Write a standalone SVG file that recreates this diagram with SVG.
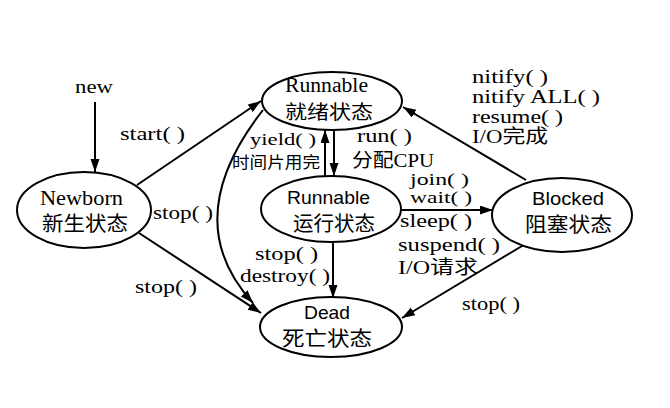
<svg xmlns="http://www.w3.org/2000/svg" width="670" height="408" viewBox="0 0 670 408">
<style>
.bg{fill:#fff}
.st{fill:#fff;stroke:#000;stroke-width:2}
.t{font-family:"Liberation Serif","Noto Sans CJK SC",serif;font-size:20px;fill:#000}
.s{font-family:"Liberation Sans","Noto Sans CJK SC",sans-serif;font-size:19px;fill:#000}
.c{font-family:"Noto Sans CJK SC",sans-serif;font-size:20px;fill:#000}
.lb{font-family:"Liberation Serif","Noto Sans CJK SC",serif;font-size:19px;fill:#000}
.sm{font-family:"Liberation Serif","Noto Sans CJK SC",serif;font-size:17px;fill:#000}
.lc{font-family:"Noto Sans CJK SC",sans-serif;font-size:16px;fill:#000}
.ln{fill:none;stroke:#000;stroke-width:2}
</style>
<defs>
<marker id="ah" markerUnits="userSpaceOnUse" markerWidth="14" markerHeight="10" refX="13" refY="4.5" orient="auto">
<path d="M0,0 L13,4.5 L0,9 Z" fill="#000"/>
</marker>
</defs>
<rect class="bg" x="0" y="0" width="670" height="408"/>
<g id="connectors">
<path class="ln" d="M95,102 L95,172" marker-end="url(#ah)"/>
<path class="ln" d="M137,185 L261,101" marker-end="url(#ah)"/>
<path class="ln" d="M263,110 Q177,220 253,303" marker-end="url(#ah)"/>
<path class="ln" d="M139,233 L261,313" marker-end="url(#ah)"/>
<path class="ln" d="M325,176 L325,130" marker-end="url(#ah)"/>
<path class="ln" d="M334,130 L334,176" marker-end="url(#ah)"/>
<path class="ln" d="M400,210 L493,210" marker-end="url(#ah)"/>
<path class="ln" d="M333,242 L333,298" marker-end="url(#ah)"/>
<path class="ln" d="M526,180 L403,107" marker-end="url(#ah)"/>
<path class="ln" d="M527,243 L402,318" marker-end="url(#ah)"/>
</g>
<g id="labels">
<text class="lb" x="75" y="93" textLength="38" lengthAdjust="spacingAndGlyphs">new</text>
<text class="lb" x="120" y="140" textLength="65" lengthAdjust="spacingAndGlyphs">start( )</text>
<text class="lb" x="153" y="219" textLength="60" lengthAdjust="spacingAndGlyphs">stop( )</text>
<text class="lb" x="135" y="293" textLength="62" lengthAdjust="spacingAndGlyphs">stop( )</text>
<text class="sm" x="250" y="145" textLength="66" lengthAdjust="spacingAndGlyphs">yield( )</text>
<text class="lc" x="232" y="168" textLength="88" lengthAdjust="spacingAndGlyphs">时间片用完</text>
<text class="lb" x="357" y="142" textLength="55" lengthAdjust="spacingAndGlyphs">run( )</text>
<text class="lb" x="352" y="167" textLength="82" lengthAdjust="spacingAndGlyphs">分配CPU</text>
<text class="sm" x="410" y="185" textLength="59" lengthAdjust="spacingAndGlyphs">join( )</text>
<text class="sm" x="410" y="203" textLength="62" lengthAdjust="spacingAndGlyphs">wait( )</text>
<text class="lb" x="400" y="227" textLength="72" lengthAdjust="spacingAndGlyphs">sleep( )</text>
<text class="lb" x="398" y="251" textLength="102" lengthAdjust="spacingAndGlyphs">suspend( )</text>
<text class="lb" x="398" y="274" textLength="80" lengthAdjust="spacingAndGlyphs">I/O请求</text>
<text class="lb" x="255" y="260" textLength="63" lengthAdjust="spacingAndGlyphs">stop( )</text>
<text class="lb" x="240" y="282" textLength="90" lengthAdjust="spacingAndGlyphs">destroy( )</text>
<text class="lb" x="462" y="310" textLength="58" lengthAdjust="spacingAndGlyphs">stop( )</text>
<text class="lb" x="472" y="83" textLength="76" lengthAdjust="spacingAndGlyphs">nitify( )</text>
<text class="lb" x="472" y="103" textLength="128" lengthAdjust="spacingAndGlyphs">nitify ALL( )</text>
<text class="lb" x="472" y="123" textLength="91" lengthAdjust="spacingAndGlyphs">resume( )</text>
<text class="lb" x="472" y="143" textLength="76" lengthAdjust="spacingAndGlyphs">I/O完成</text>
</g>
<g id="newborn">
<ellipse class="st" cx="84" cy="210" rx="67" ry="38"/>
<text class="t" x="40" y="205" textLength="83" lengthAdjust="spacingAndGlyphs">Newborn</text>
<text class="c" x="42" y="231" textLength="86" lengthAdjust="spacingAndGlyphs">新生状态</text>
</g>
<g id="runnable-ready">
<ellipse class="st" cx="332" cy="101" rx="70" ry="29"/>
<text class="t" x="285" y="92" textLength="83" lengthAdjust="spacingAndGlyphs">Runnable</text>
<text class="c" x="285" y="119" style="font-size:19px" textLength="88" lengthAdjust="spacingAndGlyphs">就绪状态</text>
</g>
<g id="runnable-running">
<ellipse class="st" cx="331" cy="209" rx="70" ry="33"/>
<text class="s" x="287" y="204" textLength="83" lengthAdjust="spacingAndGlyphs">Runnable</text>
<text class="c" x="293" y="231" textLength="82" lengthAdjust="spacingAndGlyphs">运行状态</text>
</g>
<g id="blocked">
<ellipse class="st" cx="562" cy="215" rx="70" ry="37"/>
<text class="s" x="532" y="205" textLength="72" lengthAdjust="spacingAndGlyphs">Blocked</text>
<text class="c" x="525" y="232" textLength="87" lengthAdjust="spacingAndGlyphs">阻塞状态</text>
</g>
<g id="dead">
<ellipse class="st" cx="331" cy="327" rx="71" ry="30"/>
<text class="s" x="304" y="319" textLength="46" lengthAdjust="spacingAndGlyphs">Dead</text>
<text class="c" x="282" y="346" textLength="90" lengthAdjust="spacingAndGlyphs">死亡状态</text>
</g>
</svg>
